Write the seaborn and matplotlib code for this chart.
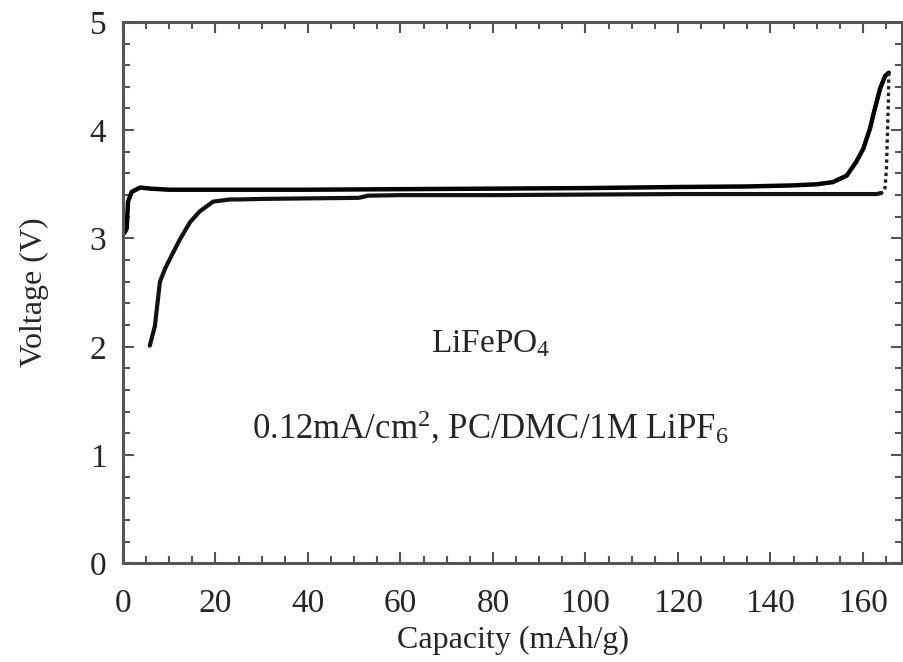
import numpy as np
import pandas as pd
import matplotlib
matplotlib.use("Agg")
import matplotlib.pyplot as plt
import seaborn as sns
from matplotlib.ticker import MultipleLocator

# ---- data ----
charge_cap = [0.3, 0.8, 1.1, 1.9, 3.7, 6, 10, 20, 40, 60, 80, 100, 120, 135, 145, 150,
              153.5, 156.5, 158.6, 160.1, 161.5, 162.6, 163.7, 164.8, 165.6]
charge_v = [3.05, 3.09, 3.34, 3.43, 3.47, 3.46, 3.45, 3.45, 3.45, 3.455, 3.46, 3.465,
            3.475, 3.48, 3.49, 3.50, 3.52, 3.58, 3.71, 3.83, 4.01, 4.20, 4.38, 4.50, 4.53]

drop_cap = [165.6, 165.5, 165.3, 165.1, 164.8, 164.0]
drop_v = [4.53, 4.25, 3.95, 3.65, 3.47, 3.42]

discharge_cap = [164.0, 163.0, 160, 140, 120, 100, 80, 60, 53, 51, 40, 30, 25, 23.1,
                 19.5, 16.6, 14.5, 12.3, 10.5, 9.1, 8.0, 6.9, 5.8]
discharge_v = [3.42, 3.41, 3.41, 3.41, 3.41, 3.405, 3.40, 3.40, 3.395, 3.375, 3.37, 3.365,
               3.36, 3.36, 3.34, 3.25, 3.15, 2.99, 2.84, 2.72, 2.60, 2.19, 2.01]

x_ticks = [0, 20, 40, 60, 80, 100, 120, 140, 160]
y_ticks = [0, 1, 2, 3, 4, 5]

sns.set_theme(style="ticks")
plt.rcParams["font.family"] = ["Liberation Serif", "DejaVu Serif"]
plt.rcParams["mathtext.fontset"] = "custom"
plt.rcParams["mathtext.rm"] = "Liberation Serif"
plt.rcParams["mathtext.it"] = "Liberation Serif:italic"

fig = plt.figure(figsize=(9.04, 6.62), dpi=100)
ax = fig.add_axes([0.136, 0.149, 0.862, 0.818])

df_c = pd.DataFrame({"cap": charge_cap, "v": charge_v})
df_d = pd.DataFrame({"cap": discharge_cap, "v": discharge_v})
df_drop = pd.DataFrame({"cap": drop_cap, "v": drop_v})

sns.lineplot(data=df_c, x="cap", y="v", ax=ax, color="black", lw=3.2, sort=False,
             estimator=None)
sns.lineplot(data=df_d, x="cap", y="v", ax=ax, color="#111111", lw=3.0, sort=False,
             estimator=None)
sns.lineplot(data=df_drop, x="cap", y="v", ax=ax, color="#222222", lw=2.4, sort=False,
             estimator=None, linestyle=(0, (1.0, 1.0)))

ax.set_xlim(0, 168.5)
ax.set_ylim(0, 5)
ax.set_xticks(x_ticks)
ax.set_yticks(y_ticks)
ax.set_xticklabels([str(t) for t in x_ticks])
ax.set_yticklabels([str(t) for t in y_ticks])
ax.xaxis.set_minor_locator(MultipleLocator(5))
ax.yaxis.set_minor_locator(MultipleLocator(0.2))
ax.tick_params(which="both", direction="in", top=True, right=True, color="#555555")
ax.tick_params(which="major", length=8, width=1.5)
ax.tick_params(which="minor", length=5, width=1.5)
ax.tick_params(axis="x", which="major", labelsize=24, pad=18)
ax.tick_params(axis="y", which="major", labelsize=24, pad=12)
for sp in ax.spines.values():
    sp.set_color("#555555")
    sp.set_linewidth(2.2)

ax.set_xlabel("Capacity (mAh/g)", fontsize=23, labelpad=5)
ax.set_ylabel("Voltage (V)", fontsize=23, labelpad=29)

ax.text(79.5, 1.95, "LiFePO$_4$", fontsize=24, ha="center", va="baseline")
ax.text(79.5, 1.15, "0.12mA/cm$^2$, PC/DMC/1M LiPF$_6$", fontsize=25, ha="center",
        va="baseline")

fig.savefig("out.png", dpi=100)
